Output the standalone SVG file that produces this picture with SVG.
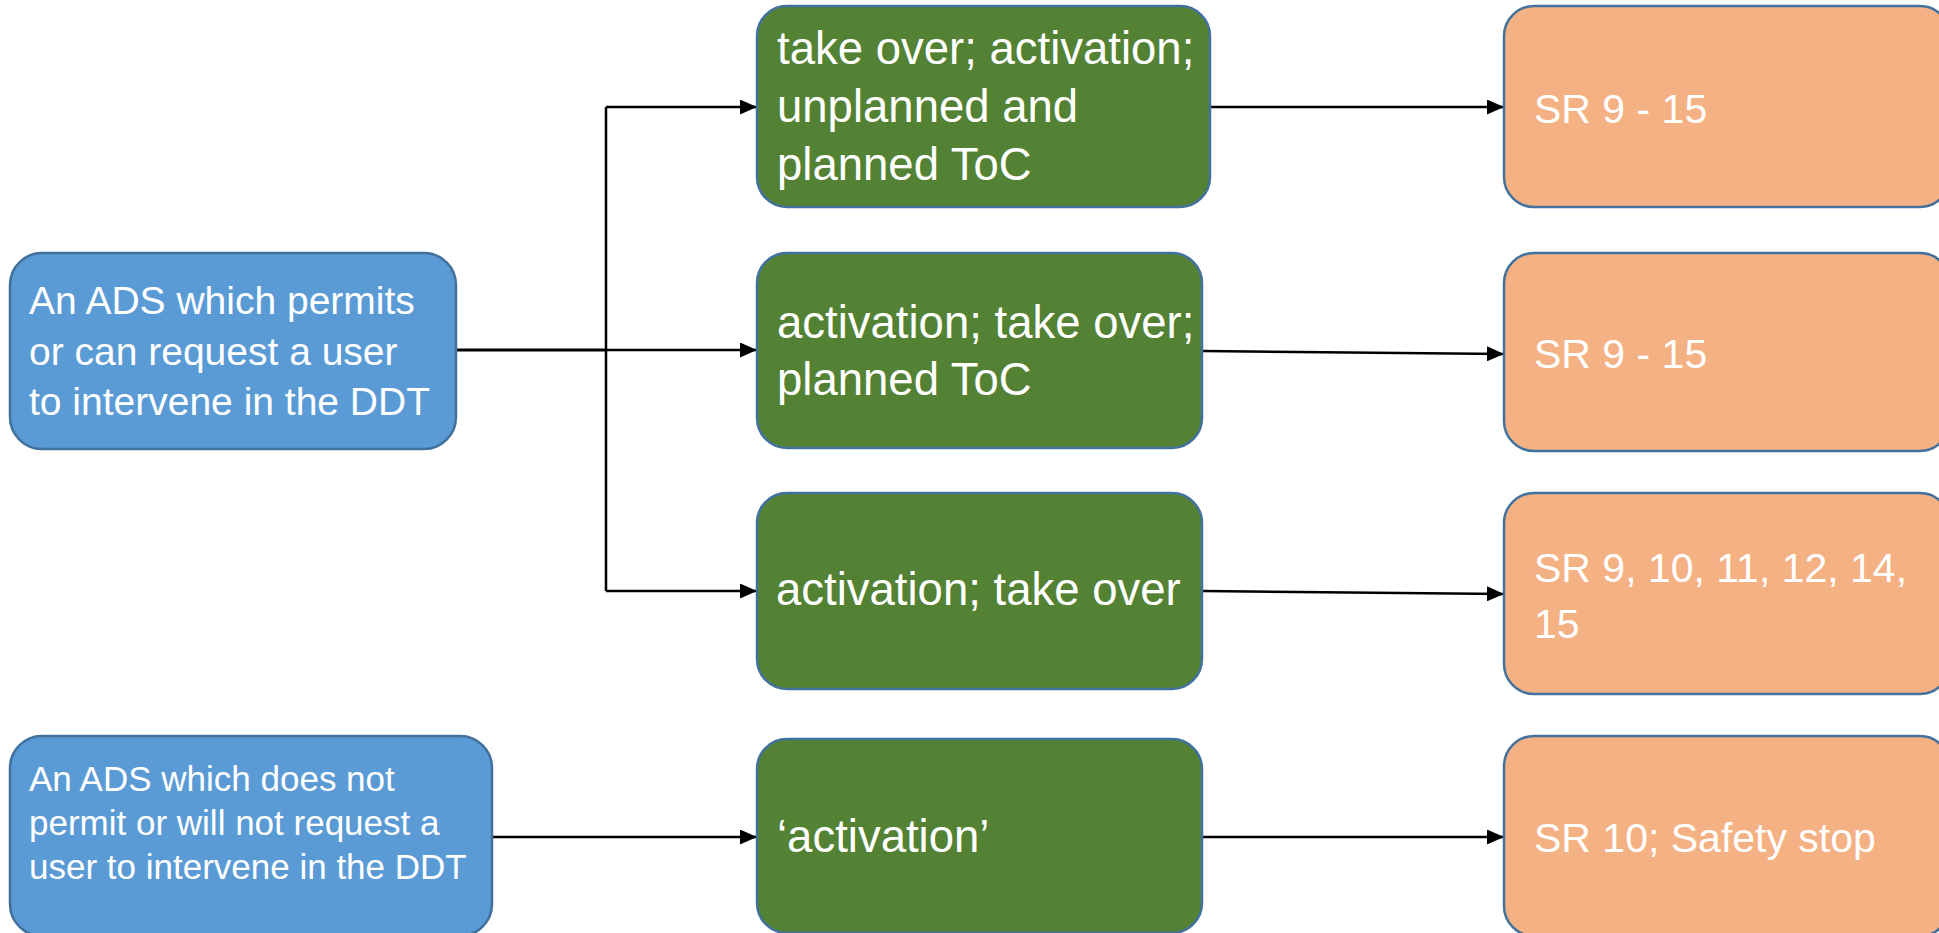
<svg xmlns="http://www.w3.org/2000/svg" width="1939" height="933" viewBox="0 0 1939 933">
<style>
  .box { stroke: #41719C; stroke-width: 2.5; }
  .blue { fill: #5B9BD5; }
  .green { fill: #548235; }
  .orange { fill: #F4B183; }
  text { font-family: "Liberation Sans", Arial, sans-serif; fill: #FFFFFF; }
  .tb1 { font-size: 39px; }
  .tb2 { font-size: 35px; }
  .tg { font-size: 45.5px; }
  .to { font-size: 41px; }
  .conn { fill: none; stroke: #000000; stroke-width: 2.5; }
</style>
<defs>
  <marker id="arrow" markerUnits="userSpaceOnUse" markerWidth="17" markerHeight="15" refX="17" refY="7.5" orient="auto">
    <path d="M0,0 L17,7.5 L0,15 Z" fill="#000000"/>
  </marker>
</defs>
<rect width="1939" height="933" fill="#FFFFFF"/>

<g id="connectors">
  <path class="conn" d="M456,350 L606,350" style="stroke-width:3"/>
  <path class="conn" d="M606,107 L606,591"/>
  <path class="conn" d="M606,107 L757,107" marker-end="url(#arrow)"/>
  <path class="conn" d="M606,350 L757,350" marker-end="url(#arrow)"/>
  <path class="conn" d="M606,591 L757,591" marker-end="url(#arrow)"/>
  <path class="conn" d="M492,837 L757,837" marker-end="url(#arrow)"/>
  <path class="conn" d="M1210,107 L1504,107" marker-end="url(#arrow)"/>
  <path class="conn" d="M1202,351 L1504,354" marker-end="url(#arrow)"/>
  <path class="conn" d="M1202,591 L1504,594" marker-end="url(#arrow)"/>
  <path class="conn" d="M1202,837 L1504,837" marker-end="url(#arrow)"/>
</g>

<g id="node-ads-permits">
  <rect class="box blue" x="10" y="253" width="446" height="196" rx="32" ry="32"/>
  <text class="tb1" x="29" y="314">An ADS which permits</text>
  <text class="tb1" x="29" y="365">or can request a user</text>
  <text class="tb1" x="29" y="415">to intervene in the DDT</text>
</g>

<g id="node-ads-not-permit">
  <rect class="box blue" x="10" y="736" width="482" height="200" rx="32" ry="32"/>
  <text class="tb2" x="29" y="791">An ADS which does not</text>
  <text class="tb2" x="29" y="835">permit or will not request a</text>
  <text class="tb2" x="29" y="879">user to intervene in the DDT</text>
</g>

<g id="node-green-1">
  <rect class="box green" x="757" y="6" width="453" height="201" rx="30" ry="30"/>
  <text class="tg" x="777" y="64">take over; activation;</text>
  <text class="tg" x="777" y="122">unplanned and</text>
  <text class="tg" x="777" y="180">planned ToC</text>
</g>

<g id="node-green-2">
  <rect class="box green" x="757" y="253" width="445" height="195" rx="30" ry="30"/>
  <text class="tg" x="777" y="338">activation; take over;</text>
  <text class="tg" x="777" y="395">planned ToC</text>
</g>

<g id="node-green-3">
  <rect class="box green" x="757" y="493" width="445" height="196" rx="30" ry="30"/>
  <text class="tg" x="776" y="605">activation; take over</text>
</g>

<g id="node-green-4">
  <rect class="box green" x="757" y="739" width="445" height="194" rx="30" ry="30"/>
  <text class="tg" x="777" y="852">‘activation’</text>
</g>

<g id="node-orange-1">
  <rect class="box orange" x="1504" y="6" width="446" height="201" rx="30" ry="30"/>
  <text class="to" x="1534" y="123">SR 9 - 15</text>
</g>

<g id="node-orange-2">
  <rect class="box orange" x="1504" y="253" width="446" height="198" rx="30" ry="30"/>
  <text class="to" x="1534" y="368">SR 9 - 15</text>
</g>

<g id="node-orange-3">
  <rect class="box orange" x="1504" y="493" width="446" height="201" rx="30" ry="30"/>
  <text class="to" x="1534" y="582">SR 9, 10, 11, 12, 14,</text>
  <text class="to" x="1534" y="638">15</text>
</g>

<g id="node-orange-4">
  <rect class="box orange" x="1504" y="736" width="446" height="200" rx="30" ry="30"/>
  <text class="to" x="1534" y="852">SR 10; Safety stop</text>
</g>
</svg>
